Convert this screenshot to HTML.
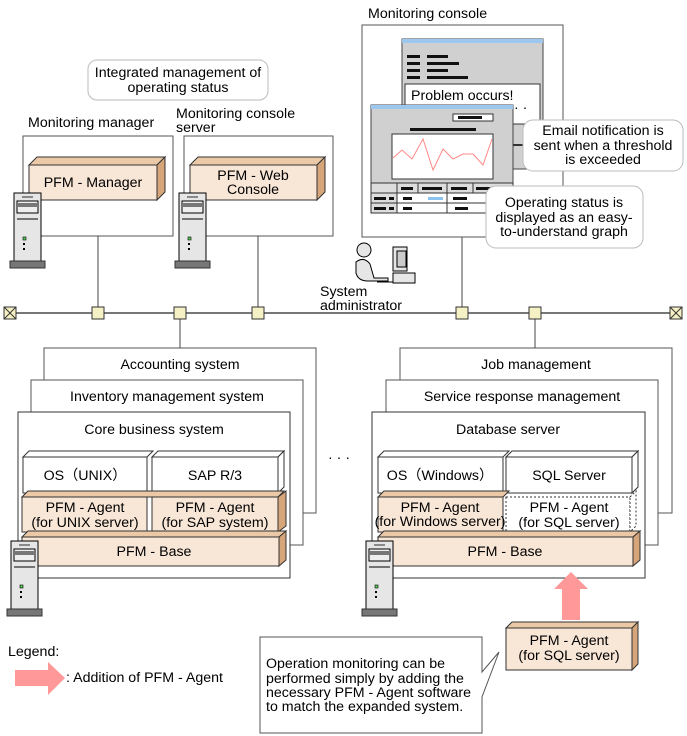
<!DOCTYPE html>
<html><head><meta charset="utf-8"><style>
body{margin:0;background:#fff}
svg{display:block;font-family:"Liberation Sans",sans-serif;}
text{font-size:14.2px;fill:#000}
</style></head><body>
<svg width="687" height="736" viewBox="0 0 687 736" xmlns="http://www.w3.org/2000/svg">
<defs>
<g id="srv">
<rect x="4" y="0" width="27" height="69" fill="#e6e6e6" stroke="#000"/>
<line x1="12" y1="4" x2="23" y2="4" stroke="#888" stroke-width="2"/>
<rect x="7" y="8" width="21" height="12" fill="#eee" stroke="#000"/>
<rect x="8" y="10" width="19" height="4" fill="#777"/>
<line x1="7" y1="26" x2="28" y2="26" stroke="#000"/>
<rect x="13" y="44" width="3" height="3" fill="#5c5" stroke="#000" stroke-width="0.6"/>
<rect x="13" y="50" width="2" height="2" fill="#000"/>
<rect x="13" y="55" width="2" height="2" fill="#000"/>
<rect x="0" y="68" width="35" height="7" fill="#777" stroke="#333"/>
</g>
</defs>

<line x1="10" y1="313" x2="676" y2="313" stroke="#777" stroke-width="2"/>
<g stroke="#444" fill="none">
<line x1="98" y1="236" x2="98" y2="313"/><line x1="258" y1="236" x2="258" y2="313"/>
<line x1="462" y1="237" x2="462" y2="313"/><line x1="180" y1="313" x2="180" y2="348"/><line x1="535" y1="313" x2="535" y2="348"/>
</g>
<g fill="#f5f1c4" stroke="#333">
<rect x="92" y="307" width="12" height="12"/><rect x="174" y="307" width="12" height="12"/><rect x="252" y="307" width="12" height="12"/><rect x="456" y="307" width="12" height="12"/><rect x="529" y="307" width="12" height="12"/>
<rect x="4" y="307" width="12" height="12"/><rect x="670" y="307" width="12" height="12"/>
</g>
<g stroke="#333"><line x1="4" y1="307" x2="16" y2="319"/><line x1="16" y1="307" x2="4" y2="319"/><line x1="670" y1="307" x2="682" y2="319"/><line x1="682" y1="307" x2="670" y2="319"/></g>

<rect x="88" y="60" width="180" height="40" rx="9" fill="#fff" stroke="#bbb"/>
<text x="178" y="77" text-anchor="middle">Integrated management of</text>
<text x="178" y="92" text-anchor="middle">operating status</text>

<text x="28" y="127">Monitoring manager</text>
<rect x="23" y="136" width="150" height="100" fill="#fff" stroke="#555"/>
<polygon points="29,165 37,157 165,157 157,165" fill="#ebc8a6" stroke="#333"/>
<polygon points="157,165 165,157 165,192 157,200" fill="#d6a67a" stroke="#333"/>
<rect x="29" y="165" width="128" height="35" fill="#f8e6d6" stroke="#333"/>
<text x="93" y="187" text-anchor="middle">PFM - Manager</text>
<use href="#srv" x="10" y="193"/>

<text x="176" y="118">Monitoring console</text>
<text x="176" y="132">server</text>
<rect x="184" y="136" width="149" height="100" fill="#fff" stroke="#555"/>
<polygon points="190,165 198,157 325,157 317,165" fill="#ebc8a6" stroke="#333"/>
<polygon points="317,165 325,157 325,192 317,200" fill="#d6a67a" stroke="#333"/>
<rect x="190" y="165" width="127" height="35" fill="#f8e6d6" stroke="#333"/>
<text x="253" y="180" text-anchor="middle">PFM - Web</text>
<text x="253" y="194" text-anchor="middle">Console</text>
<use href="#srv" x="175" y="193"/>

<text x="368" y="18">Monitoring console</text>
<rect x="362" y="25" width="201" height="212" fill="#fff" stroke="#555"/>
<rect x="402" y="39" width="141" height="130" fill="#d0d0d0" stroke="#444"/>
<rect x="402" y="39" width="141" height="4" fill="#9cc8f0"/>
<g fill="#111"><rect x="407" y="55" width="13" height="3"/><rect x="427" y="55" width="21" height="3"/><rect x="407" y="62" width="13" height="3"/><rect x="427" y="62" width="32" height="3"/><rect x="407" y="69" width="13" height="3"/><rect x="427" y="69" width="21" height="3"/><rect x="407" y="76" width="13" height="3"/><rect x="427" y="76" width="41" height="3"/></g>
<rect x="405" y="84" width="135" height="40" fill="#fff" stroke="#333"/>
<text x="411" y="100">Problem occurs!</text>
<text x="514" y="112" font-size="11">· ·</text>
<rect x="371" y="105" width="142" height="108" fill="#d0d0d0" stroke="#444"/>
<rect x="371" y="105" width="142" height="4" fill="#9cc8f0"/>
<rect x="453" y="114" width="40" height="7" fill="#fff" stroke="#333"/><rect x="458" y="116" width="24" height="3" fill="#111"/>
<rect x="410" y="128" width="66" height="3" fill="#111"/>
<rect x="392" y="134" width="101" height="45" fill="#fff" stroke="#333"/>
<polyline points="393,158 402,150 412,159 423,139 433,170 443,149 453,159 463,154 473,154 483,165 492,139" fill="none" stroke="#f88" stroke-width="1"/>
<rect x="371" y="183" width="142" height="30" fill="#fff" stroke="#333"/>
<rect x="371" y="183" width="142" height="10" fill="#ddd" stroke="#333"/>
<rect x="371" y="193" width="26" height="20" fill="#ddd" stroke="#333"/>
<g stroke="#333"><line x1="397" y1="183" x2="397" y2="213"/><line x1="418" y1="183" x2="418" y2="193"/><line x1="447" y1="183" x2="447" y2="213"/><line x1="473" y1="183" x2="473" y2="193"/><line x1="371" y1="203" x2="513" y2="203"/></g>
<g fill="#111"><rect x="401" y="187" width="12" height="3"/><rect x="422" y="187" width="20" height="3"/><rect x="451" y="187" width="16" height="3"/><rect x="476" y="187" width="14" height="3"/><rect x="374" y="197" width="12" height="3"/><rect x="389" y="197" width="5" height="3"/><rect x="374" y="207" width="12" height="3"/><rect x="389" y="207" width="5" height="3"/><rect x="403" y="197" width="9" height="3"/><rect x="453" y="197" width="14" height="3"/><rect x="403" y="207" width="9" height="3"/><rect x="455" y="207" width="13" height="3"/></g>
<rect x="428" y="197" width="15" height="3" fill="#8bc4f0"/>
<line x1="513" y1="145" x2="523" y2="145" stroke="#333" stroke-width="2"/>
<rect x="523" y="120" width="160" height="51" rx="10" fill="#fff" stroke="#bbb"/>
<text x="603" y="135" text-anchor="middle">Email notification is</text>
<text x="603" y="150" text-anchor="middle">sent when a threshold</text>
<text x="603" y="164" text-anchor="middle">is exceeded</text>
<rect x="486" y="186" width="157" height="62" rx="10" fill="#fff" stroke="#bbb"/>
<text x="564" y="207" text-anchor="middle">Operating status is</text>
<text x="564" y="222" text-anchor="middle">displayed as an easy-</text>
<text x="564" y="236" text-anchor="middle">to-understand graph</text>

<g stroke="#000" fill="#e6e6e6">
<circle cx="364" cy="250" r="7"/>
<path d="M356 262 q8,-6 14,2 l4,14 h14 v3 h-20 q-10,0 -12,-8 z"/>
<rect x="393" y="247" width="14" height="24"/><rect x="397" y="251" width="9" height="16" fill="#ccc"/>
<rect x="393" y="273" width="22" height="10"/>
<line x1="377" y1="282" x2="393" y2="282"/>
</g>
<text x="320" y="296">System</text>
<text x="320" y="310">administrator</text>

<rect x="44" y="348" width="272" height="165" fill="#fff" stroke="#555"/>
<text x="180" y="369" text-anchor="middle">Accounting system</text>
<rect x="31" y="380" width="272" height="165" fill="#fff" stroke="#555"/>
<text x="167" y="401" text-anchor="middle">Inventory management system</text>
<rect x="18" y="412" width="272" height="166" fill="#fff" stroke="#333"/>
<text x="154" y="434" text-anchor="middle">Core business system</text>

<g stroke="#333">
<polygon points="23,457 29,451 153,451 147,457" fill="#fff"/>
<rect x="23" y="457" width="124" height="36" fill="#fff"/>
<polygon points="152,457 158,451 284,451 278,457" fill="#fff"/>
<polygon points="278,457 284,451 284,487 278,493" fill="#fff"/>
<rect x="152" y="457" width="126" height="36" fill="#fff"/>
<polygon points="22,497 28,491 284,491 278,497" fill="#ebc8a6"/>
<polygon points="278,497 286,491 286,526 278,532" fill="#d6a67a"/>
<rect x="22" y="497" width="125" height="35" fill="#f8e6d6"/>
<rect x="152" y="497" width="126" height="35" fill="#f8e6d6"/>
<polygon points="22,537 28,531 286,531 279,537" fill="#ebc8a6"/>
<polygon points="279,537 286,531 286,560 279,566" fill="#d6a67a"/>
<rect x="22" y="537" width="257" height="29" fill="#f8e6d6"/>
</g>
<text x="85" y="480" text-anchor="middle">OS（UNIX）</text>
<text x="215" y="480" text-anchor="middle">SAP R/3</text>
<text x="85" y="512" text-anchor="middle">PFM - Agent</text>
<text x="85" y="527" text-anchor="middle">(for UNIX server)</text>
<text x="215" y="512" text-anchor="middle">PFM - Agent</text>
<text x="215" y="527" text-anchor="middle">(for SAP system)</text>
<text x="154" y="556" text-anchor="middle">PFM - Base</text>
<use href="#srv" x="7" y="541"/>
<text x="328" y="462" font-size="15">· · ·</text>

<rect x="400" y="348" width="272" height="165" fill="#fff" stroke="#555"/>
<text x="536" y="369" text-anchor="middle">Job management</text>
<rect x="386" y="380" width="272" height="165" fill="#fff" stroke="#555"/>
<text x="522" y="401" text-anchor="middle">Service response management</text>
<rect x="372" y="412" width="273" height="166" fill="#fff" stroke="#333"/>
<text x="508" y="434" text-anchor="middle">Database server</text>
<g stroke="#333">
<polygon points="378,457 384,451 509,451 503,457" fill="#fff"/>
<rect x="378" y="457" width="125" height="36" fill="#fff"/>
<polygon points="506,457 512,451 638,451 632,457" fill="#fff"/>
<polygon points="632,457 638,451 638,487 632,493" fill="#fff"/>
<rect x="506" y="457" width="126" height="36" fill="#fff"/>
<polygon points="378,497 384,491 509,491 503,497" fill="#ebc8a6"/>
<rect x="378" y="497" width="125" height="35" fill="#f8e6d6"/>
<rect x="506" y="497" width="124" height="35" fill="#fff" stroke-dasharray="2,2"/>
<polygon points="630,497 636,491 636,526 630,532" fill="#fff" stroke-dasharray="2,2"/>
<polygon points="378,537 384,531 640,531 633,537" fill="#ebc8a6"/>
<polygon points="633,537 640,531 640,560 633,566" fill="#d6a67a"/>
<rect x="378" y="537" width="255" height="29" fill="#f8e6d6"/>
</g>
<text x="440" y="480" text-anchor="middle">OS（Windows）</text>
<text x="569" y="480" text-anchor="middle">SQL Server</text>
<text x="440" y="512" text-anchor="middle">PFM - Agent</text>
<text x="440" y="526" text-anchor="middle" font-size="11.5">(for Windows server)</text>
<text x="569" y="512" text-anchor="middle">PFM - Agent</text>
<text x="569" y="527" text-anchor="middle">(for SQL server)</text>
<text x="505" y="556" text-anchor="middle">PFM - Base</text>
<use href="#srv" x="362" y="541"/>

<polygon points="571,572 588,589 580,589 580,620 562,620 562,589 554,589" fill="#f99"/>
<g stroke="#333">
<polygon points="506,628 512,622 638,622 632,628" fill="#ebc8a6"/>
<polygon points="632,628 638,622 638,664 632,670" fill="#d6a67a"/>
<rect x="506" y="628" width="126" height="42" fill="#f8e6d6"/>
</g>
<text x="569" y="645" text-anchor="middle">PFM - Agent</text>
<text x="569" y="660" text-anchor="middle">(for SQL server)</text>

<path d="M260 637 H482 V672 L499 652 L482 697 V733 H260 Z" fill="#fff" stroke="#555"/>
<text x="266" y="668">Operation monitoring can be</text>
<text x="266" y="683">performed simply by adding the</text>
<text x="266" y="697">necessary PFM - Agent software</text>
<text x="266" y="711">to match the expanded system.</text>

<text x="8" y="656">Legend:</text>
<polygon points="15,670 48,670 48,662 65,678 48,695 48,686 15,686" fill="#f99"/>
<text x="66" y="682">: Addition of PFM - Agent</text>
</svg>
</body></html>
